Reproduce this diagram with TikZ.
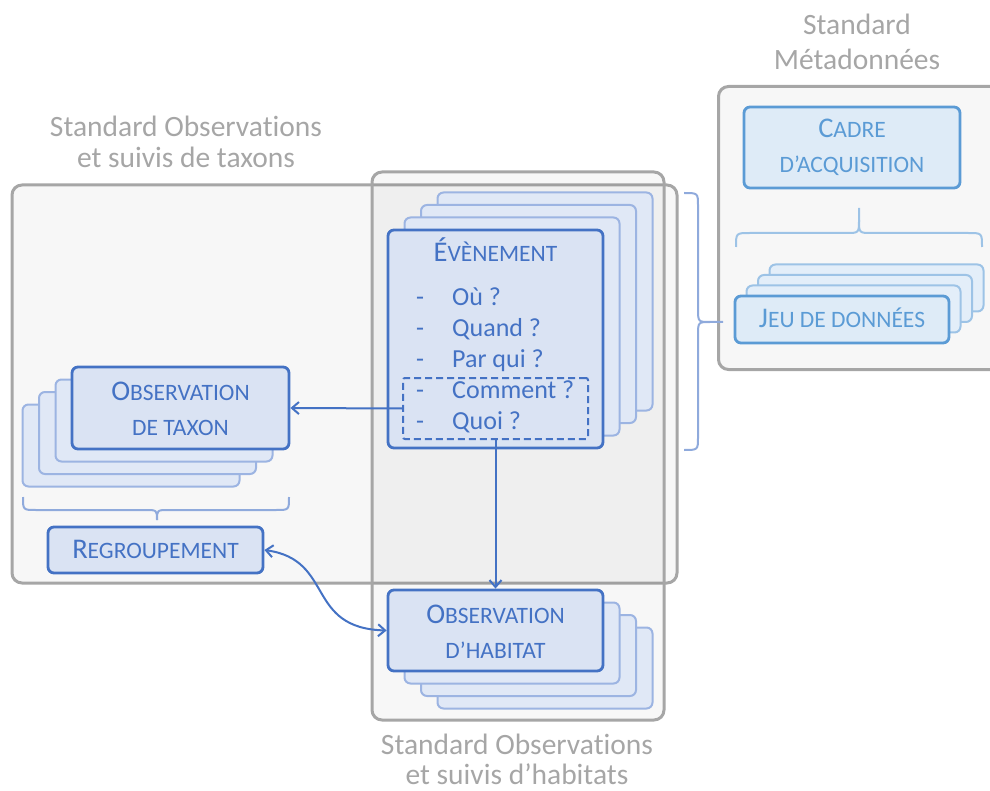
\documentclass[tikz,border=0pt]{standalone}
\usepackage{fontspec}
\setmainfont{Carlito}[Ligatures=NoCommon]
\usetikzlibrary{arrows.meta}
\definecolor{gstroke}{HTML}{A6A6A6}
\definecolor{gtext}{HTML}{A6A6A6}
\definecolor{bdark}{HTML}{4472C4}
\definecolor{blight}{HTML}{9CB4E2}
\definecolor{bfill}{HTML}{DAE3F3}
\definecolor{bfillb}{HTML}{E0E8F6}
\definecolor{mdark}{HTML}{5B9BD5}
\definecolor{mlight}{HTML}{9DC3E6}
\definecolor{mfill}{HTML}{DEEBF7}
\definecolor{mfillb}{HTML}{E3EEF9}
\definecolor{brace}{HTML}{8FAADC}
\newcommand\fsc[2]{{\fontsize{28.5}{30}\selectfont #1}{\fontsize{23.5}{30}\selectfont #2}}
\begin{document}
\begin{tikzpicture}[x=1pt,y=-1pt,
  gbox/.style={draw=gstroke,line width=3pt,rounded corners=10pt,fill=black,fill opacity=0.03,inner sep=0pt},
  frontbox/.style={draw=bdark,fill=bfill,line width=2.8pt,rounded corners=6pt,inner sep=0pt},
  backbox/.style={draw=blight,fill=bfillb,line width=2pt,rounded corners=6pt,inner sep=0pt},
  mfront/.style={draw=mdark,fill=mfill,line width=2.8pt,rounded corners=6pt,inner sep=0pt},
  mback/.style={draw=mlight,fill=mfillb,line width=2pt,rounded corners=6pt,inner sep=0pt},
  dashbox/.style={draw=bdark,dash pattern=on 7pt off 4pt,line width=2pt,rounded corners=2pt,inner sep=0pt},
  lbl/.style={text=gtext,font=\fontsize{29.5}{30}\selectfont,anchor=base,inner sep=0pt},
  btxt/.style={text=bdark,anchor=base,inner sep=0pt},
  mtxt/.style={text=mdark,anchor=base,inner sep=0pt},
  itxt/.style={text=bdark,font=\fontsize{26}{28}\selectfont,anchor=base west,inner sep=0pt},
  bline/.style={draw=bdark,line width=2pt},
  arr/.style={bline,-{Straight Barb[length=7pt,width=12pt,line width=2pt]}},
  brc/.style={draw=brace,line width=2pt},
  mbrc/.style={draw=mlight,line width=2pt}
]
\useasboundingbox (0,0) rectangle (990,791);
\clip (0,0) rectangle (990,791);

% gray standard boxes
\node[gbox,minimum width=665pt,minimum height=398pt] (taxstd) at (344.5,384) {};
\node[gbox,minimum width=292pt,minimum height=548pt] (habstd) at (518,446) {};
\node[gbox,minimum width=300pt,minimum height=283pt,anchor=north west] (metastd) at (717,85) {};

% labels
\node[lbl] (lt1) at (186,137) {Standard Observations};
\node[lbl] (lt2) at (186,168) {et suivis de taxons};
\node[lbl] (lm1) at (857,35) {Standard};
\node[lbl] (lm2) at (857,70) {Métadonnées};
\node[lbl] (lh1) at (517,754) {Standard Observations};
\node[lbl] (lh2) at (517,784) {et suivis d’habitats};

% Evenement stack
\node[backbox,minimum width=215pt,minimum height=218pt] (ev3) at (545,301.5) {};
\node[backbox,minimum width=215pt,minimum height=218pt] (ev2) at (528.5,314) {};
\node[backbox,minimum width=215pt,minimum height=218pt] (ev1) at (512,326.5) {};
\node[frontbox,minimum width=215pt,minimum height=218pt] (ev) at (495.5,339) {};
\node[btxt] (evt) at (495.5,262) {\fsc{É}{VÈNEMENT}};
\node[itxt] (d1) at (416,306) {-};
\node[itxt] (d2) at (416,337) {-};
\node[itxt] (d3) at (416,367) {-};
\node[itxt] (d4) at (416,398) {-};
\node[itxt] (d5) at (416,429) {-};
\node[itxt] (i1) at (452,306) {Où ?};
\node[itxt] (i2) at (452,337) {Quand ?};
\node[itxt] (i3) at (452,367) {Par qui ?};
\node[itxt] (i4) at (452,398) {Comment ?};
\node[itxt] (i5) at (452,429) {Quoi ?};
\node[dashbox,minimum width=185pt,minimum height=61pt] (dash) at (495.5,408.5) {};

% Observation de taxon stack
\node[backbox,minimum width=217pt,minimum height=82pt] (ot3) at (131,445.5) {};
\node[backbox,minimum width=217pt,minimum height=82pt] (ot2) at (147.5,433) {};
\node[backbox,minimum width=217pt,minimum height=82pt] (ot1) at (164,420.5) {};
\node[frontbox,minimum width=217pt,minimum height=82pt] (ot) at (180.5,408) {};
\node[btxt] (ott1) at (180.5,400) {\fsc{O}{BSERVATION}};
\node[btxt] (ott2) at (180.5,435) {\fsc{}{DE TAXON}};

% Regroupement
\node[frontbox,minimum width=215pt,minimum height=46pt] (reg) at (155.5,550) {};
\node[btxt] (regt) at (155.5,558) {\fsc{R}{EGROUPEMENT}};

% Observation d'habitat stack
\node[backbox,minimum width=215pt,minimum height=81pt] (oh3) at (545,668) {};
\node[backbox,minimum width=215pt,minimum height=81pt] (oh2) at (528.5,655.5) {};
\node[backbox,minimum width=215pt,minimum height=81pt] (oh1) at (512,643) {};
\node[frontbox,minimum width=215pt,minimum height=81pt] (oh) at (495.5,630.5) {};
\node[btxt] (oht1) at (495.5,623) {\fsc{O}{BSERVATION}};
\node[btxt] (oht2) at (495.5,658) {\fsc{}{D’HABITAT}};

% Metadata
\node[mfront,minimum width=216pt,minimum height=81pt] (cadre) at (852,147.5) {};
\node[mtxt] (cat1) at (852,138) {\fsc{C}{ADRE}};
\node[mtxt] (cat2) at (852,173) {\fsc{}{D’ACQUISITION}};
\node[mback,minimum width=214pt,minimum height=47pt] (jd3) at (876.5,288) {};
\node[mback,minimum width=214pt,minimum height=47pt] (jd2) at (865,298.5) {};
\node[mback,minimum width=214pt,minimum height=47pt] (jd1) at (853.5,309) {};
\node[mfront,minimum width=214pt,minimum height=47pt] (jd) at (842,319.5) {};
\node[mtxt] (jdt) at (842,328) {\fsc{J}{EU DE DONNÉES}};

% braces
\draw[brc] (684,193) .. controls (698,193) .. (698,206) -- (698,308)
  .. controls (698,322) .. (710,322) -- (723,322);
\draw[brc] (684,450) .. controls (698,450) .. (698,437) -- (698,336)
  .. controls (698,322) .. (710,322);
\draw[mbrc] (736,247) .. controls (736,233) .. (750,233) -- (846,233)
  .. controls (859,233) .. (859,220) -- (859,208);
\draw[mbrc] (982,247) .. controls (982,233) .. (968,233) -- (872,233)
  .. controls (859,233) .. (859,220);
\draw[brc] (23,497) .. controls (23,510) .. (36,510) -- (145,510)
  .. controls (157,510) .. (157,520);
\draw[brc] (289,497) .. controls (289,510) .. (276,510) -- (169,510)
  .. controls (157,510) .. (157,520);

% connectors
\draw[arr] (dash.west) -- (ot.east);
\draw[arr] (dash.south) -- (oh.north);
\draw[bline,{Straight Barb[length=7pt,width=12pt,line width=2pt]}-{Straight Barb[length=7pt,width=12pt,line width=2pt]}]
  (reg.east) .. controls (335,560) and (305,628) .. (oh.west);
\end{tikzpicture}
\end{document}
